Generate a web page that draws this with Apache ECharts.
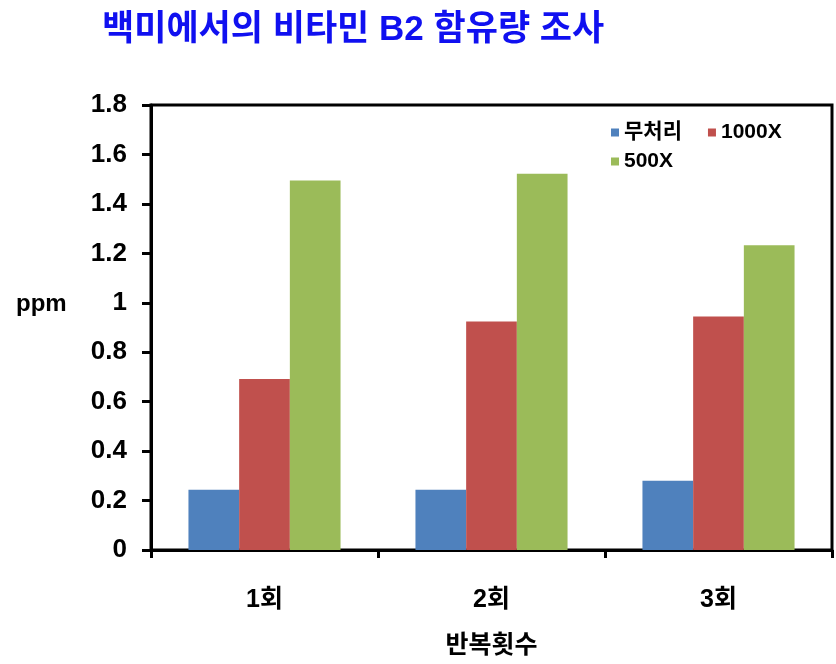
<!DOCTYPE html>
<html><head><meta charset="utf-8">
<script src="https://cdn.jsdelivr.net/npm/echarts@6/dist/echarts.min.js"></script>
<style>html,body{margin:0;padding:0;background:#fff}#c{width:836px;height:664px}</style>
</head><body><div id="c"></div>
<script>
const categories = ['1회', '2회', '3회'];
const seriesNames = ['무처리', '1000X', '500X'];
const untreated = [0.244, 0.244, 0.28];
const x1000 = [0.692, 0.924, 0.944];
const x500 = [1.495, 1.522, 1.233];
const yTicks = [0, 0.2, 0.4, 0.6, 0.8, 1, 1.2, 1.4, 1.6, 1.8];
const yAxisName = 'ppm';

const FONT = '"Liberation Sans", Arial, "Noto Sans CJK KR", sans-serif';
const colors = ['#4F81BD', '#C0504D', '#9BBB59'];
const chart = echarts.init(document.getElementById('c'));
const legendText = {fontFamily: FONT, fontWeight: 'bold', fontSize: 21, color: '#000'};
chart.setOption({
  animation: false,
  color: colors,
  title: {
    text: '백미에서의 비타민 B2 함유량 조사',
    left: 97, top: 8,
    textStyle: {fontFamily: FONT, fontWeight: 'bold', fontSize: 35, color: '#1010F0'}
  },
  legend: [
    {data: [seriesNames[0], seriesNames[1]], left: 611, top: 122, itemWidth: 8, itemHeight: 8, itemGap: 26,
     icon: 'rect', textStyle: legendText, padding: 0},
    {data: [seriesNames[2]], left: 611, top: 151, itemWidth: 8, itemHeight: 8, icon: 'rect', textStyle: legendText, padding: 0}
  ],
  graphic: [
    {type: 'text', left: 16, top: 292, style: {text: yAxisName, fontFamily: FONT, fontWeight: 'bold', fontSize: 24, fill: '#000'}}
  ],
  grid: {left: 151, right: 4, top: 105, bottom: 110, containLabel: false,
    show: true, borderColor: '#000', borderWidth: 3, backgroundColor: 'transparent'},
  xAxis: {
    type: 'category', data: categories,
    name: '반복횟수', nameLocation: 'middle', nameGap: 84,
    nameTextStyle: {fontFamily: FONT, fontWeight: 'bold', fontSize: 25, color: '#000'},
    axisLine: {lineStyle: {color: '#000', width: 3}},
    axisTick: {show: true, length: 8, lineStyle: {color: '#000', width: 3}, alignWithLabel: false},
    axisLabel: {fontFamily: FONT, fontWeight: 'bold', fontSize: 25, color: '#000', margin: 38}
  },
  yAxis: {
    type: 'value', min: 0, max: 1.8, interval: 0.2,
    axisLine: {show: true, lineStyle: {color: '#000', width: 3}},
    axisTick: {show: true, length: 9, lineStyle: {color: '#000', width: 3}},
    splitLine: {show: false},
    axisLabel: {fontFamily: FONT, fontWeight: 'bold', fontSize: 26, color: '#000', margin: 24,
      formatter: v => { const t = yTicks.find(x => Math.abs(x - v) < 1e-9); return t === undefined ? '' : String(t); }}
  },
  series: [
    {name: seriesNames[0], type: 'bar', data: untreated, barGap: '0%', barCategoryGap: '33%'},
    {name: seriesNames[1], type: 'bar', data: x1000, barGap: '0%', barCategoryGap: '33%'},
    {name: seriesNames[2], type: 'bar', data: x500, barGap: '0%', barCategoryGap: '33%'}
  ]
});
</script></body></html>
